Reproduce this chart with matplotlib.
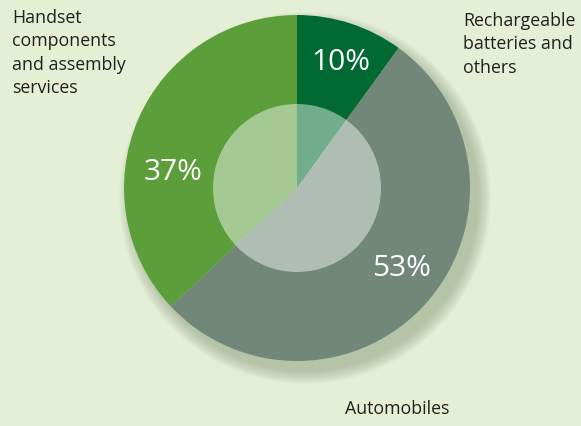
import matplotlib.pyplot as plt
from matplotlib.patches import Circle

# data
labels = ["Rechargeable\nbatteries and\nothers", "Automobiles", "Handset\ncomponents\nand assembly\nservices"]
shares = [10, 53, 37]
colors = ["#006a32", "#71877a", "#5c9e3a"]

W, H = 581, 426
cx, cy, r = 297, 188, 173
r_in = 84

fig = plt.figure(figsize=(W / 100, H / 100), dpi=100)
fig.patch.set_facecolor("#e4efd6")
ax = fig.add_axes([0, 0, 1, 1])

# soft drop shadow
for i in range(14):
    ax.add_patch(Circle((cx + 8, cy + 10), r + 13 - i, color="#8a9a7c", alpha=0.045, lw=0, zorder=1))

# y axis is flipped (pixel coords), so counterclock in data = clockwise on screen,
# and -90 deg points to the top of the picture
wedges, _ = ax.pie(shares, colors=colors, startangle=-90, counterclock=True,
                   center=(cx, cy), radius=r, frame=True,
                   wedgeprops=dict(linewidth=0, zorder=2))

ax.add_patch(Circle((cx, cy), r_in, color="white", alpha=0.45, lw=0, zorder=3))

ax.set_xlim(0, W)
ax.set_ylim(H, 0)
ax.set_aspect("equal")
ax.axis("off")

font = "Open Sans"
pct = ["%d%%" % s for s in shares]
pct_pos = [(341, 62), (401, 268), (173, 172)]
for t, (x, y) in zip(pct, pct_pos):
    ax.text(x, y, t, color="white", fontsize=21.5, family=font, ha="center", va="center", zorder=4)

ax.text(12, 9, labels[2], fontsize=12.8, family=font, color="#231f20", ha="left", va="top",
        linespacing=1.38, zorder=4)
ax.text(463, 12, labels[0], fontsize=12.8, family=font, color="#231f20", ha="left", va="top",
        linespacing=1.38, zorder=4)
ax.text(397, 409, labels[1], fontsize=12.8, family=font, color="#231f20", ha="center", va="center",
        zorder=4)

fig.savefig("out.png", dpi=100, facecolor=fig.get_facecolor())
